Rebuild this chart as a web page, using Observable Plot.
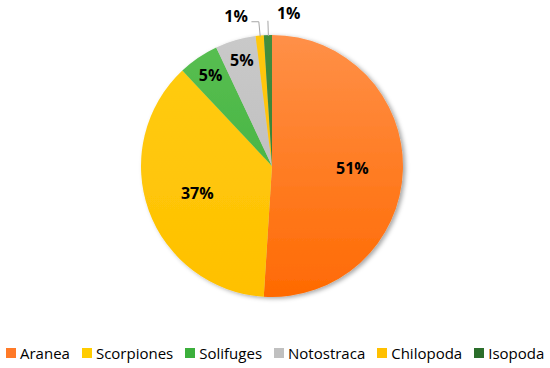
<!DOCTYPE html>
<html><head><meta charset="utf-8">
<script src="https://cdn.jsdelivr.net/npm/d3@7"></script>
<script src="https://cdn.jsdelivr.net/npm/@observablehq/plot@0.6"></script>
<style>
body{margin:0;background:#fff;font-family:"Open Sans",sans-serif;}
#chart{width:550px;height:368px;position:relative;overflow:hidden}
.legend{position:absolute;top:343px;left:6px;width:544px;display:flex;justify-content:flex-start;gap:12px;font-size:15px;line-height:20px;color:#000;white-space:nowrap}
.item{display:flex;align-items:center;gap:4px}
.sw{width:10px;height:10px;flex:none}
</style></head><body><div id="chart"></div>
<script>
const categories = ["Aranea","Scorpiones","Solifuges","Notostraca","Chilopoda","Isopoda"];
const values = [51, 37, 5, 5, 1, 1];
const labels = ["51%","37%","5%","5%","1%","1%"];
const colorTop = ["#FF9048","#FFCD12","#58BF52","#C9C9C9","#FFC810","#428E3D"];
const colorBottom = ["#FF6A02","#FFC000","#3CAD39","#B8B8B8","#FFBC00","#2E782E"];
const swatches = ["#FF7A28","#FFCC00","#3CAF3C","#C0C0C0","#FFC000","#2B6E2B"];

// layout
const W = 550, H = 330, CX = 272, CY = 166, R = 131;
const arcs = d3.pie().sort(null).value(d => d)(values);
const table = arcs.map((a, i) => {
  const mid = (a.startAngle + a.endAngle) / 2;
  return {name: categories[i], value: values[i], label: labels[i], mid, i};
});
const inside = table.filter(d => d.value >= 5).map(d => {
  const k = d.value >= 10 ? 0.61 : 0.84;
  return {...d, x: k * Math.sin(d.mid), y: k * Math.cos(d.mid)};
});
const outside = table.filter(d => d.value < 5);
const leader = [];
outside.forEach((d, j) => {
  const e = {x: Math.sin(d.mid), y: Math.cos(d.mid)};
  const b = {x: 1.11 * Math.sin(d.mid), y: 1.11 * Math.cos(d.mid)};
  leader.push({name: d.name, ...e}, {name: d.name, ...b});
  if (j === 0) leader.push({name: d.name, x: b.x - 7 / R, y: b.y});
});
const outLeft = outside.slice(0, 1).map(d => ({...d, x: 1.11 * Math.sin(d.mid) - 11 / R, y: 1.11 * Math.cos(d.mid)}));
const outRight = outside.slice(1).map(d => ({...d, x: 1.11 * Math.sin(d.mid) + 9 / R, y: 1.11 * Math.cos(d.mid)}));

function pieMark(index, scales, vals, dims, context) {
  const cx = scales.x(0), cy = scales.y(0), r = scales.x(1) - scales.x(0);
  const g = d3.create("svg:g");
  const defs = g.append("defs");
  const f = defs.append("filter").attr("id", "pshadow").attr("x", "-10%").attr("y", "-10%").attr("width", "125%").attr("height", "125%");
  f.append("feDropShadow").attr("dx", 2.5).attr("dy", 1.5).attr("stdDeviation", 2).attr("flood-color", "#000").attr("flood-opacity", 0.35);
  arcs.forEach((a, i) => {
    const lg = defs.append("linearGradient").attr("id", "pg" + i)
      .attr("gradientUnits", "userSpaceOnUse")
      .attr("x1", 0).attr("y1", -r).attr("x2", 0).attr("y2", r);
    lg.append("stop").attr("offset", "0%").attr("stop-color", colorTop[i]);
    lg.append("stop").attr("offset", "100%").attr("stop-color", colorBottom[i]);
  });
  const arc = d3.arc().innerRadius(0).outerRadius(r);
  g.append("g").attr("transform", `translate(${cx},${cy})`).attr("filter", "url(#pshadow)")
    .selectAll("path").data(arcs).join("path")
    .attr("d", arc).attr("fill", (d, i) => `url(#pg${i})`);
  return g.node();
}

const font = "'Open Sans', sans-serif";
const svg = Plot.plot({
  width: W, height: H, margin: 0,
  x: {domain: [-CX / R, (W - CX) / R], axis: null},
  y: {domain: [-(H - CY) / R, CY / R], axis: null},
  style: {fontFamily: font, background: "white"},
  marks: [
    pieMark,
    Plot.line(leader, {x: "x", y: "y", z: "name", stroke: "#A6A6A6", strokeWidth: 1}),
    Plot.text(inside, {x: "x", y: "y", text: "label", fontSize: 16, fontWeight: "bold", fill: "#000", fontFamily: font}),
    Plot.text(outLeft, {x: "x", y: "y", text: "label", dy: -5, textAnchor: "end", fontSize: 16, fontWeight: "bold", fill: "#000", fontFamily: font}),
    Plot.text(outRight, {x: "x", y: "y", text: "label", dy: -7, textAnchor: "start", fontSize: 16, fontWeight: "bold", fill: "#000", fontFamily: font})
  ]
});
const chart = document.getElementById("chart");
chart.appendChild(svg);
const leg = d3.select(chart).append("div").attr("class", "legend");
categories.forEach((c, i) => {
  const it = leg.append("div").attr("class", "item");
  it.append("div").attr("class", "sw").style("background", swatches[i]);
  it.append("span").text(c);
});
</script></body></html>
